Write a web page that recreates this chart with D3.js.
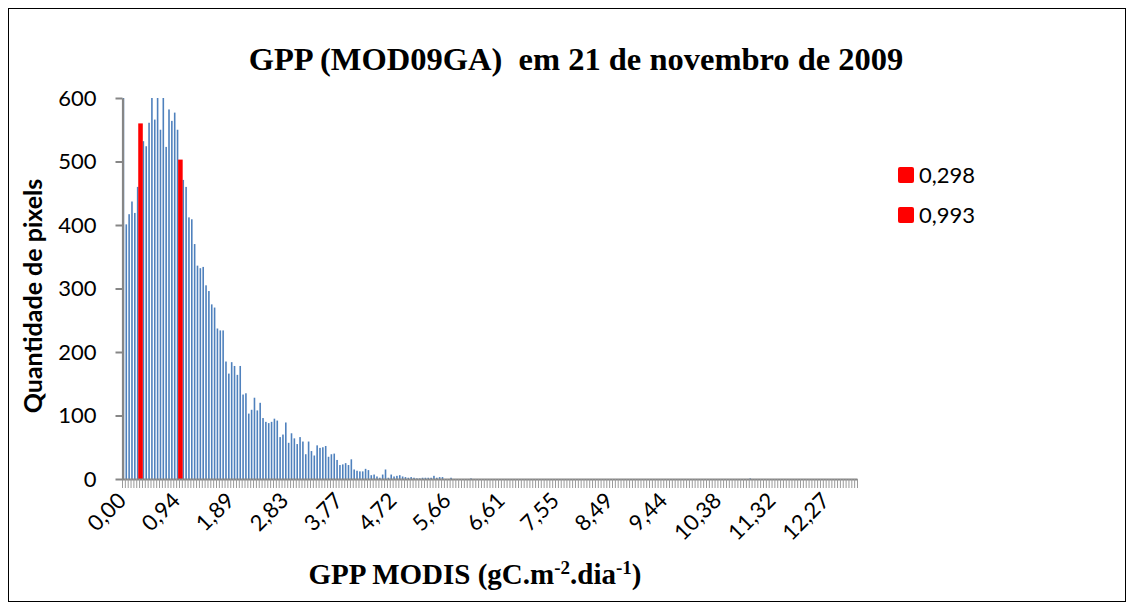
<!DOCTYPE html>
<html><head><meta charset="utf-8">
<script src="https://cdn.jsdelivr.net/npm/d3@7"></script>
<style>body{margin:0;background:#fff}</style>
</head><body><svg id="c" width="1134" height="610"></svg>
<script>
// histogram counts per GPP bin (bin index 0..257)
const counts = [
600,401,417,437,419,460,540,532,524,561,
600,566,600,550,600,523,582,564,577,550,
490,471,460,412,409,370,336,332,334,305,
296,275,270,237,234,234,185,166,184,178,
164,178,133,135,103,109,128,108,120,96,
90,88,90,95,92,66,70,89,57,72,
64,55,66,59,39,59,44,37,53,49,
50,52,35,39,40,30,22,23,25,22,
31,15,13,12,12,16,14,6,7,4,
2,7,15,2,7,4,5,6,4,3,
2,3,2,1,1,2,2,2,2,5,
2,3,3,0,0,2,0,0,0,0,
0,0,1,0,0,0,0,0,0,0,
0,0,0,0,0,0,0,0,0,0,
0,0,0,0,0,0,0,0,0,0,
0,0,0,0,0,0,0,0,0,0,
0,0,0,0,0,0,0,0,0,0,
0,0,0,0,0,0,0,0,0,0,
0,0,0,0,0,0,0,0,0,0,
0,0,0,0,0,0,0,0,0,0,
0,0,0,0,0,0,0,0,0,0,
0,0,0,0,0,0,0,0,0,0,
1,0,0,0,0,0,0,0,0,0,
0,0,0,0,0,0,0,0,0,0,
0,0,0,0,0,0,0,0,0,0,
0,0,0,0,0,0,0,0
];
const tickLabels = ["0,00","0,94","1,89","2,83","3,77","4,72","5,66","6,61","7,55","8,49","9,44","10,38","11,32","12,27"];
const tickEvery = 19;
const redNames = ["0,298","0,993"];
const redIndex = [6,20];
const redValues = [560,503];
const yTicks = [0,100,200,300,400,500,600];

const calibri = "Lato, 'Open Sans', sans-serif";
const serif = "'Liberation Serif', 'Times New Roman', serif";
const svg = d3.select("#c");
svg.append("rect").attr("x",0).attr("y",0).attr("width",1134).attr("height",610).attr("fill","#fff");
svg.append("rect").attr("x",8.5).attr("y",8.5).attr("width",1117).attr("height",593)
  .attr("fill","#fff").attr("stroke","#000").attr("stroke-width",1);

const x = d3.scaleBand().domain(d3.range(counts.length)).range([122,857]).padding(0);
const xb = d3.scaleLinear().domain([0,counts.length]).range([122,857]);
const y = d3.scaleLinear().domain([0,600]).range([479,98]);
const step = x.step();

// blue bars
svg.append("g").selectAll("rect").data(counts).join("rect")
  .attr("x",(d,i)=>x(i)+step*0.22).attr("width",step*0.56)
  .attr("y",d=>y(d)).attr("height",d=>y(0)-y(d)).attr("fill","#4f81bd");
// red bars
svg.append("g").selectAll("rect").data(redValues).join("rect")
  .attr("x",(d,i)=>x(redIndex[i])+step/2-step*0.8).attr("width",step*1.6)
  .attr("y",d=>y(d)).attr("height",d=>y(0)-y(d)).attr("fill","#ff0000");

// x axis
const gx = svg.append("g").attr("transform","translate(0,479)")
  .call(d3.axisBottom(xb).tickValues(d3.range(counts.length+1)).tickSize(9).tickSizeOuter(0).tickFormat(""));
gx.select(".domain").attr("stroke","#868686").attr("stroke-width",2);
gx.selectAll(".tick line").attr("stroke","#9a9a9a").attr("stroke-width",1);

// y axis
const gy = svg.append("g").attr("transform","translate(122.5,0)")
  .call(d3.axisLeft(y).tickValues(yTicks).tickSize(7).tickSizeOuter(0).tickPadding(19).tickFormat(d3.format("d")));
gy.select(".domain").attr("stroke","#868686").attr("stroke-width",2.2);
gy.selectAll(".tick line").attr("stroke","#868686").attr("stroke-width",2);
gy.selectAll(".tick text").attr("font-family",calibri).attr("font-size",22).attr("fill","#000");

// x tick labels
svg.append("g").selectAll("text").data(tickLabels).join("text")
  .attr("transform",(d,k)=>`translate(${x(k*tickEvery)+step/2+4},502) rotate(-45)`)
  .attr("text-anchor","end").attr("font-family",calibri).attr("font-size",22).attr("fill","#000")
  .text(d=>d);

// title
svg.append("text").attr("x",576).attr("y",70).attr("text-anchor","middle")
  .attr("font-family",serif).attr("font-weight","bold").attr("font-size",32.5)
  .style("white-space","pre").text("GPP (MOD09GA)  em 21 de novembro de 2009");

// y title
svg.append("text").attr("transform","translate(42,296) rotate(-90)").attr("text-anchor","middle")
  .attr("font-family",calibri).attr("font-weight","bold").attr("font-size",25)
  .text("Quantidade de pixels");

// x title
const xt = svg.append("text").attr("x",475).attr("y",584).attr("text-anchor","middle")
  .attr("font-family",serif).attr("font-weight","bold").attr("font-size",29);
xt.append("tspan").text("GPP MODIS (gC.m");
xt.append("tspan").attr("dy",-10).attr("font-size",19).text("-2");
xt.append("tspan").attr("dy",10).text(".dia");
xt.append("tspan").attr("dy",-10).attr("font-size",19).text("-1");
xt.append("tspan").attr("dy",10).text(")");

// legend
const lg = svg.append("g").selectAll("g").data(redNames).join("g")
  .attr("transform",(d,i)=>`translate(898,${167+i*40})`);
lg.append("rect").attr("width",16).attr("height",16).attr("rx",2).attr("fill","#ff0000");
lg.append("text").attr("x",21).attr("y",16).attr("font-family",calibri).attr("font-size",22).attr("fill","#000").text(d=>d);
</script></body></html>
